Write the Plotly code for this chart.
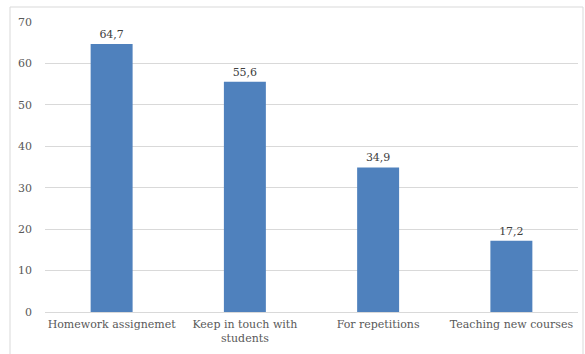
import plotly.graph_objects as go

categories = ["Homework assignemet", "Keep in touch with<br>students", "For repetitions", "Teaching new courses"]
values = [64.7, 55.6, 34.9, 17.2]
value_labels = ["64,7", "55,6", "34,9", "17,2"]
y_ticks = [0, 10, 20, 30, 40, 50, 60, 70]

font_family = "DejaVu Serif"
txt = "#595959"

fig = go.Figure(go.Bar(
    x=categories, y=values, text=value_labels, textposition="outside",
    textfont=dict(family=font_family, size=11, color="#404040"),
    marker=dict(color="#4F81BD", line=dict(width=0)),
    width=0.315, cliponaxis=False,
))

ml, mr, mt, mb = 45, 7, 22, 42
W, H = 585, 354
pw, ph = W - ml - mr, H - mt - mb

fig.update_layout(
    width=W, height=H,
    margin=dict(l=ml, r=mr, t=mt, b=mb),
    paper_bgcolor="white", plot_bgcolor="white",
    showlegend=False,
    font=dict(family=font_family, size=11, color=txt),
    uniformtext=dict(minsize=1),
    xaxis=dict(showgrid=False, showline=False, ticks="", tickfont=dict(size=11, color=txt),
               ticklabelstandoff=4),
    yaxis=dict(range=[0, 70], tickvals=y_ticks, showgrid=True, gridcolor="#d9d9d9",
               gridwidth=1, zeroline=True, zerolinecolor="#d9d9d9", zerolinewidth=1,
               ticks="", tickfont=dict(size=11, color=txt), ticklabelstandoff=12),
    shapes=[dict(type="rect", xref="paper", yref="paper",
                 x0=(10 - ml) / pw, x1=(583 - ml) / pw,
                 y0=-(mb + 20) / ph, y1=1 + (mt - 7) / ph,
                 line=dict(color="#d9d9d9", width=1), fillcolor="rgba(0,0,0,0)", layer="below")],
)

fig.write_html("out.html")
